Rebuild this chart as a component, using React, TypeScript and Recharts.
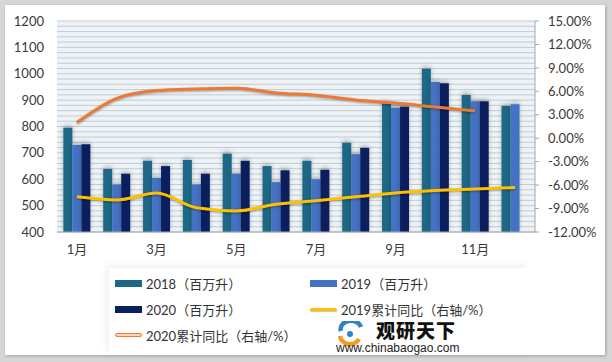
import React from "react";
import {
  Bar,
  CartesianGrid,
  ComposedChart,
  Line,
  XAxis,
  YAxis,
} from "recharts";

// 月度产量（百万升）与累计同比
const months = ["1月", "2月", "3月", "4月", "5月", "6月", "7月", "8月", "9月", "10月", "11月", "12月"];
const vol2018 = [795, 639, 670, 673, 697, 650, 670, 738, 887, 1019, 919, 878];
const vol2019 = [730, 580, 605, 580, 621, 589, 600, 695, 871, 969, 896, 884];
const vol2020 = [733, 621, 650, 621, 670, 634, 636, 719, 875, 964, 896, null];
const yoy2019 = [-7.5, -7.9, -7.0, -8.9, -9.3, -8.45, -8.0, -7.5, -7.0, -6.7, -6.5, -6.3];
const yoy2020 = [2.0, 5.1, 6.1, 6.3, 6.4, 5.8, 5.5, 4.9, 4.5, 4.0, 3.5, null];

const leftTicks = [400, 500, 600, 700, 800, 900, 1000, 1100, 1200];
const rightTicks = [-12, -9, -6, -3, 0, 3, 6, 9, 12, 15];
const minorGrid = Array.from({ length: 41 }, (_, i) => 400 + i * 20);

const C18 = "#1D6886";
const C19 = "#4472C4";
const C20 = "#0B1F5E";
const CY = "#FFC000";
const CO = "#EE7A32";

const legendItems = [
  { name: "2018（百万升）", color: C18, kind: "bar" },
  { name: "2019（百万升）", color: C19, kind: "bar" },
  { name: "2020（百万升）", color: C20, kind: "bar" },
  { name: "2019累计同比（右轴/%）", color: CY, kind: "line" },
  { name: "2020累计同比（右轴/%）", color: CO, kind: "double" },
];

const data = months.map((m, i) => ({
  month: m,
  v2018: vol2018[i],
  v2019: vol2019[i],
  v2020: vol2020[i],
  y2019: yoy2019[i],
  y2020: yoy2020[i],
}));

const font = "Lato, 'Noto Sans CJK SC', sans-serif";
const tickStyle = { fontSize: 13, fill: "#3a3a3a", fontFamily: font };

function LegendIcon({ kind, color }: { kind: string; color: string }) {
  if (kind === "bar") {
    return <span style={{ display: "inline-block", width: 27, height: 7, background: color }} />;
  }
  if (kind === "line") {
    return <span style={{ display: "inline-block", width: 27, height: 3, background: color, borderRadius: 2, boxShadow: "0 1px 1px rgba(0,0,0,0.25)" }} />;
  }
  return (
    <span
      style={{
        display: "inline-block",
        width: 25,
        height: 2,
        border: `1.5px solid ${color}`,
        borderRadius: 3,
        background: "#fbd3b8",
      }}
    />
  );
}

export default function App() {
  return (
    <div style={{ position: "absolute", left: 0, top: 0, width: 612, height: 362, background: "#d6d6d6", overflow: "hidden" }}>
      <style>{`
        .ln-shadow path.recharts-curve { filter: drop-shadow(0.5px 1.5px 1px rgba(0,0,0,0.35)); }
        .bar-shadow .recharts-rectangle { filter: drop-shadow(0 -2px 2px rgba(0,0,0,0.25)); }
      `}</style>
      <div
        style={{
          position: "absolute",
          left: 5,
          top: 5,
          width: 600,
          height: 350,
          background: "#fff",
          boxShadow: "1px 1px 3px rgba(0,0,0,0.25)",
        }}
      />
      <div style={{ position: "absolute", left: 0, top: 0 }}>
        <ComposedChart
          width={612}
          height={362}
          data={data}
          margin={{ top: 21, right: 0, bottom: 100, left: 0 }}
          barCategoryGap="16%"
          barGap={0}
        >
          <CartesianGrid
            yAxisId="left"
            vertical={false}
            horizontalValues={minorGrid}
            stroke="#c3cbd3"
            fill="#eef3f7"
            fillOpacity={1}
          />
          <XAxis
            dataKey="month"
            interval={1}
            axisLine={{ stroke: "#a6a6a6" }}
            tickLine={false}
            tickSize={0}
            tickMargin={13}
            height={30}
            tick={tickStyle}
          />
          <YAxis
            yAxisId="left"
            domain={[400, 1200]}
            ticks={leftTicks}
            interval={0}
            width={57}
            axisLine={false}
            tickLine={false}
            tickSize={0}
            tickMargin={13}
            tick={tickStyle}
          />
          <YAxis
            yAxisId="right"
            orientation="right"
            domain={[-12, 15]}
            ticks={rightTicks}
            interval={0}
            width={77}
            axisLine={{ stroke: "#a6a6a6" }}
            tickLine={{ stroke: "#a6a6a6" }}
            tickSize={4}
            tickMargin={9}
            tickFormatter={(v: number) => `${v.toFixed(2)}%`}
            tick={tickStyle}
          />
          <Bar className="bar-shadow" yAxisId="left" dataKey="v2018" fill={C18} isAnimationActive={false} />
          <Bar className="bar-shadow" yAxisId="left" dataKey="v2019" fill={C19} isAnimationActive={false} />
          <Bar className="bar-shadow" yAxisId="left" dataKey="v2020" fill={C20} isAnimationActive={false} />
          <Line
            className="ln-shadow"
            yAxisId="right"
            type="monotone"
            dataKey="y2019"
            stroke={CY}
            strokeWidth={3}
            dot={false}
            isAnimationActive={false}
          />
          <Line
            className="ln-shadow"
            yAxisId="right"
            type="monotone"
            dataKey="y2020"
            stroke={CO}
            strokeWidth={3}
            dot={false}
            isAnimationActive={false}
          />
        </ComposedChart>
      </div>

      {/* 图例 */}
      <div
        style={{
          position: "absolute",
          left: 109,
          top: 268,
          width: 420,
          height: 87,
          background: "#fff",
          boxShadow: "-3px -3px 6px rgba(0,0,0,0.06)",
        }}
      />
      {legendItems.map((it, i) => {
        const col = i % 2;
        const row = Math.floor(i / 2);
        return (
          <div
            key={it.name}
            style={{
              position: "absolute",
              left: col === 0 ? 115 : 310,
              top: 274 + row * 26,
              height: 18,
              display: "flex",
              alignItems: "center",
              gap: 4,
              fontFamily: font,
              fontSize: 13,
              color: "#333",
              whiteSpace: "nowrap",
            }}
          >
            <LegendIcon kind={it.kind} color={it.color} />
            <span>{it.name}</span>
          </div>
        );
      })}

      {/* 水印 */}
      <svg style={{ position: "absolute", left: 336, top: 321 }} width={28} height={26}>
        <path d="M4 15 A10 9 0 0 0 23 18" stroke="#f39a1f" strokeWidth={4.5} fill="none" />
        <path d="M5 10 A10 8 0 0 1 25 6" stroke="#2c84c7" strokeWidth={4.5} fill="none" />
        <circle cx={14} cy={13} r={3} fill="#2c84c7" />
      </svg>
      <div
        style={{
          position: "absolute",
          left: 376,
          top: 318,
          fontFamily: "'Noto Sans CJK SC', sans-serif",
          fontWeight: 900,
          fontSize: 19,
          letterSpacing: 1,
          color: "#111",
          lineHeight: "24px",
        }}
      >
        观研天下
      </div>
      <div
        style={{
          position: "absolute",
          left: 336,
          top: 341,
          fontFamily: "Arial, 'Liberation Sans', sans-serif",
          fontSize: 12,
          color: "#222",
          lineHeight: "14px",
        }}
      >
        www.chinabaogao.com
      </div>
    </div>
  );
}
